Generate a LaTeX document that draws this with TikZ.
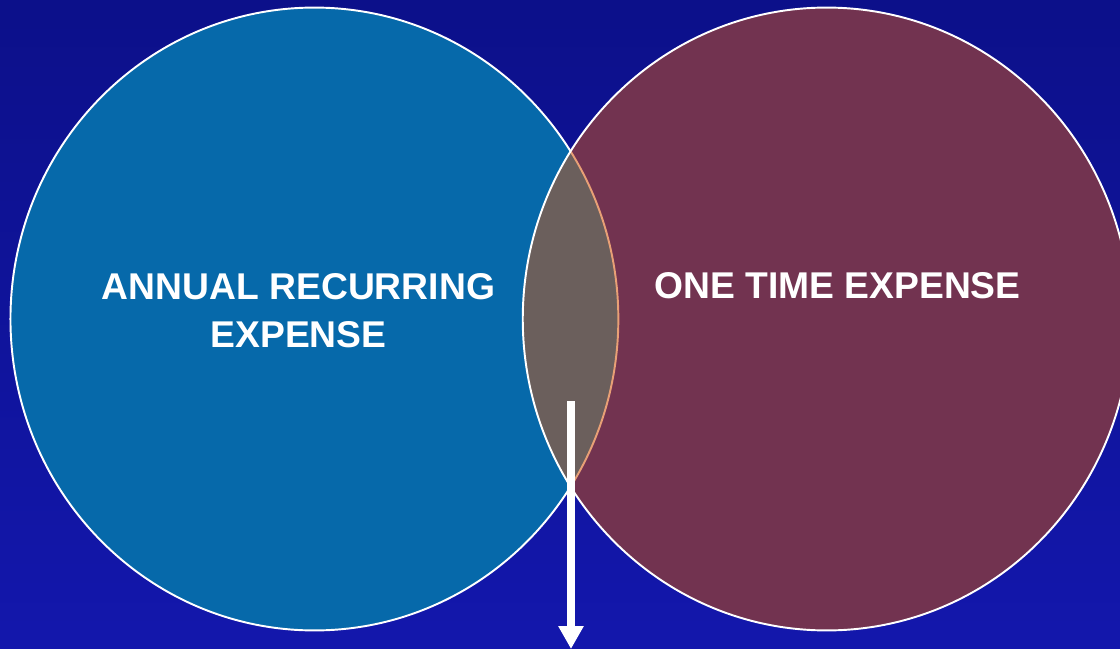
\documentclass[tikz,border=0pt]{standalone}
\usepackage{fontspec}
\setmainfont{Liberation Sans}
\usetikzlibrary{arrows.meta,positioning}

\definecolor{bgtop}{RGB}{12,16,138}
\definecolor{bgbot}{RGB}{19,23,172}
\definecolor{recblue}{RGB}{6,105,170}
\definecolor{onemaroon}{RGB}{114,51,80}
\definecolor{lensgrey}{RGB}{107,95,92}
\definecolor{lensedge}{RGB}{232,160,118}

\begin{document}
\begin{tikzpicture}[
  x=0.02cm, y=-0.02cm,
  venn/.style={x radius=6.08cm, y radius=6.23cm},
  rim/.style={draw=white, line width=1.1pt},
  venntext/.style={text=white, inner sep=0pt, align=center,
                   font=\fontsize{21.2}{27.4}\selectfont\bfseries},
  arr/.style={-{Triangle[width=0.48cm,length=0.46cm]}, white,
              line width=0.17cm}
]
\useasboundingbox (0,0) rectangle (1120,649);

%% --- Background ----------------------------------------------
\shade[top color=bgtop, bottom color=bgbot] (0,0) rectangle (1120,649);

\coordinate (rec) at (314.4,319);
\coordinate (one) at (826.7,319);

%% --- Circles -------------------------------------------------
\fill[recblue] (rec) ellipse [venn];
\draw[rim] (rec) ellipse [venn];
\fill[onemaroon] (one) ellipse [venn];

% overlap of the two sets
\begin{scope}
  \clip (rec) ellipse [venn];
  \fill[lensgrey] (one) ellipse [venn];
\end{scope}
\begin{scope}
  \clip (one) ellipse [venn];
  \draw[rim, draw=lensedge] (rec) ellipse [venn];
\end{scope}
\draw[rim] (one) ellipse [venn];

%% --- Labels --------------------------------------------------
\node[venntext] (reclabel) at (298.5,310.5) {ANNUAL RECURRING\\EXPENSE};
\node[venntext] (onelabel) at (837.5,286) {ONE TIME EXPENSE};

%% --- Arrow out of the overlap --------------------------------
\coordinate (shared) at (571,401);
\coordinate (below) at (571,649);
\draw[arr] (shared) -- (below);

\end{tikzpicture}
\end{document}
